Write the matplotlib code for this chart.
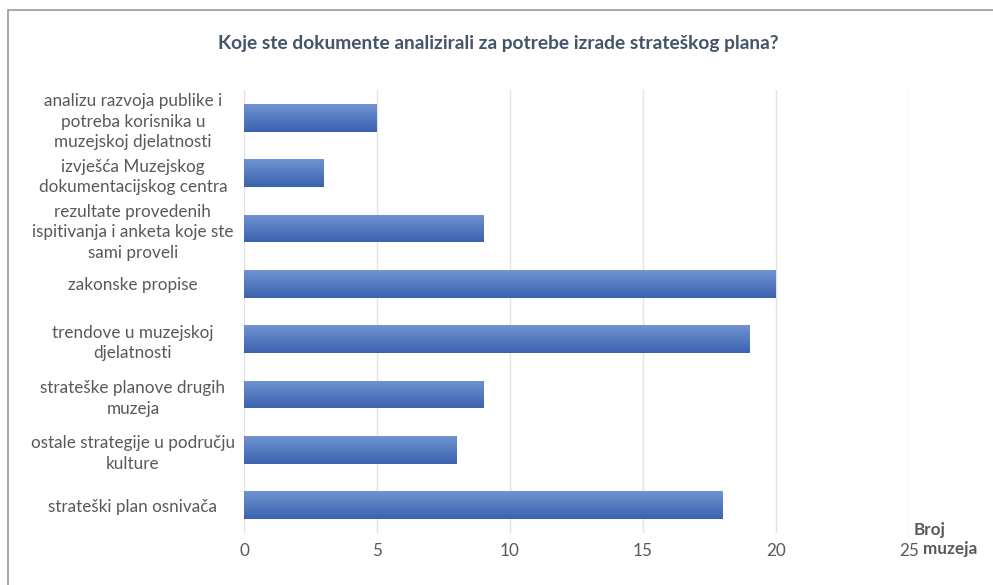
import matplotlib
matplotlib.use("Agg")
from matplotlib import pyplot as plt
from matplotlib.colors import LinearSegmentedColormap
from matplotlib.patches import Rectangle
import numpy as np

# Survey answers: which documents museums analysed for their strategic plan
categories = [
    "analizu razvoja publike i\npotreba korisnika u\nmuzejskoj djelatnosti",
    "izvješća Muzejskog\ndokumentacijskog centra",
    "rezultate provedenih\nispitivanja i anketa koje ste\nsami proveli",
    "zakonske propise",
    "trendove u muzejskoj\ndjelatnosti",
    "strateške planove drugih\nmuzeja",
    "ostale strategije u području\nkulture",
    "strateški plan osnivača",
]
counts = [5, 3, 9, 20, 19, 9, 8, 18]
xticks = [0, 5, 10, 15, 20, 25]

title = "Koje ste dokumente analizirali za potrebe izrade strateškog plana?"
xlabelTop = "Broj"
xlabelBottom = "muzeja"

textColor = "#595959"
titleColor = "#44546a"
gridColor = "#e3e3e3"

plt.rcParams['font.family'] = ['Lato', 'DejaVu Sans']


def main():
    fig = plt.figure(figsize=(9.93, 5.85), dpi=100)
    W, H = 993, 585

    # outer chart frame (left and top edges visible)
    fig.patches.append(Rectangle((8 / W, -0.1), 1.2, (H - 10) / H + 0.1,
                                 transform=fig.transFigure, fill=False,
                                 edgecolor="#9a9a9a", linewidth=1.2))

    ax = fig.add_axes([244 / W, (H - 533) / H, (909 - 244) / W, (533 - 90) / H])

    ypos = np.arange(len(categories))
    bars = ax.barh(ypos, counts, height=0.5, color="#4a72bf", zorder=2)

    # vertical gradient on every bar, light on top, dark at the bottom
    grad = LinearSegmentedColormap.from_list("barGrad", ["#7193d2", "#3a62ae"])
    g = np.linspace(0, 1, 64).reshape(-1, 1)
    for b in bars:
        x0, y0 = b.get_x(), b.get_y()
        w, h = b.get_width(), b.get_height()
        im = ax.imshow(g, cmap=grad, aspect='auto', origin='upper',
                       extent=(x0, x0 + w, y0 + h, y0), zorder=3)
        im.set_clip_path(b)

    ax.set_xlim(0, 25)
    ax.set_ylim(len(categories) - 0.5, -0.5)
    ax.set_xticks(xticks)
    ax.set_xticklabels([str(t) for t in xticks])
    ax.set_yticks(ypos)
    ax.set_yticklabels(categories)

    for lbl in ax.get_yticklabels():
        lbl.set_horizontalalignment('center')
        lbl.set_multialignment('center')
        lbl.set_linespacing(1.37)

    ax.tick_params(axis='y', length=0, pad=80, labelsize=12.3, labelcolor=textColor)
    ax.tick_params(axis='x', length=0, pad=7, labelsize=12.3, labelcolor=textColor)

    ax.grid(axis='x', color=gridColor, linewidth=1, zorder=0)
    for s in ax.spines.values():
        s.set_visible(False)

    fig.text(498 / W, 1 - 44 / H, title, ha='center', va='center',
             fontsize=13.8, fontweight='bold', color=titleColor)

    fig.text(930 / W, 1 - 530 / H, xlabelTop, ha='center', va='center',
             fontsize=12.3, fontweight='bold', color=textColor)
    fig.text(950 / W, 1 - 549 / H, xlabelBottom, ha='center', va='center',
             fontsize=12.3, fontweight='bold', color=textColor)

    fig.savefig("out.png", dpi=100)


if __name__ == "__main__":
    main()
